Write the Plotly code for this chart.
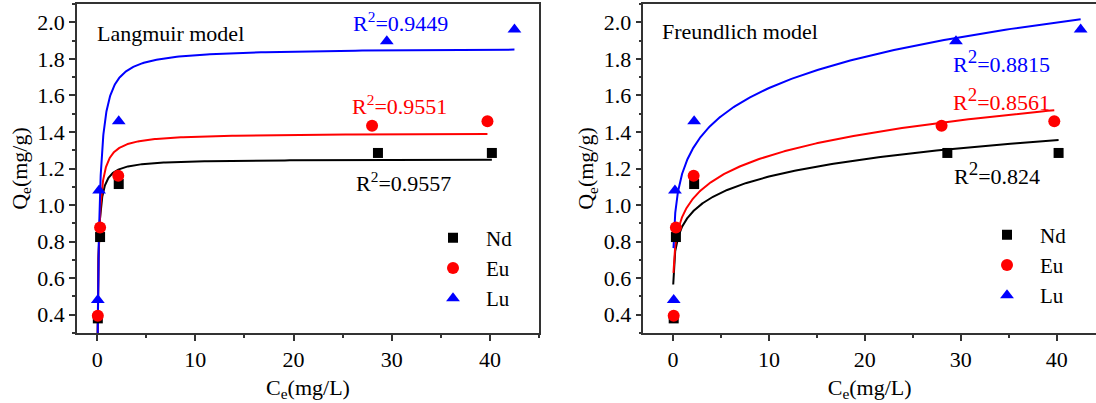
import numpy as np
import plotly.graph_objects as go

# ---------------- data ----------------
elements = ["Nd", "Eu", "Lu"]
colors = ["#000000", "#ff0000", "#0000ff"]
symbols = ["square", "circle", "triangle-up"]
marker_sizes = [10, 12, 12]

ce_nd = [0.07, 0.3, 2.2, 28.6, 40.2]
qe_nd = [0.38, 0.825, 1.115, 1.285, 1.285]
ce_eu = [0.07, 0.3, 2.15, 28.0, 39.75]
qe_eu = [0.395, 0.877, 1.16, 1.434, 1.458]
ce_lu = [0.07, 0.2, 2.2, 29.5, 42.5]
qe_lu = [0.48, 1.08, 1.458, 1.896, 1.96]
ce_all = [ce_nd, ce_eu, ce_lu]
qe_all = [qe_nd, qe_eu, qe_lu]

# fitted model parameters
langmuir_qm = [1.251, 1.393, 1.86]
langmuir_k = [9.7, 7.24, 4.58]
freundlich_kf = [0.887, 0.941, 1.18]
freundlich_inv_n = [0.115, 0.13, 0.143]
freundlich_cstart = [0.02, 0.045, 0.048]

langmuir_r2 = ["0.9557", "0.9551", "0.9449"]
freundlich_r2 = ["0.824", "0.8561", "0.8815"]

W, H = 1096, 403
FONT = "Liberation Serif"
AX = "#333333"

fig = go.Figure()

# ---------------- Langmuir (left) ----------------
for i in range(3):
    cmax = max(ce_all[i])
    c = np.concatenate([[0.0], np.geomspace(1e-3, cmax, 400)])
    q = langmuir_qm[i] * langmuir_k[i] * c / (1 + langmuir_k[i] * c)
    fig.add_trace(go.Scatter(x=c, y=q, mode="lines", line=dict(color=colors[i], width=2),
                             showlegend=False, xaxis="x", yaxis="y", hoverinfo="skip"))
for i in range(3):
    fig.add_trace(go.Scatter(x=ce_all[i], y=qe_all[i], mode="markers", name=elements[i],
                             marker=dict(color=colors[i], symbol=symbols[i], size=marker_sizes[i]),
                             xaxis="x", yaxis="y", legend="legend", legendgroup="L" + elements[i],
                             cliponaxis=False))

# ---------------- Freundlich (right) ----------------
for i in range(3):
    cmax = max(ce_all[i])
    c = np.geomspace(freundlich_cstart[i], cmax, 400)
    q = freundlich_kf[i] * c ** freundlich_inv_n[i]
    fig.add_trace(go.Scatter(x=c, y=q, mode="lines", line=dict(color=colors[i], width=2),
                             showlegend=False, xaxis="x2", yaxis="y2", hoverinfo="skip"))
for i in range(3):
    fig.add_trace(go.Scatter(x=ce_all[i], y=qe_all[i], mode="markers", name=elements[i],
                             marker=dict(color=colors[i], symbol=symbols[i], size=marker_sizes[i]),
                             xaxis="x2", yaxis="y2", legend="legend2", legendgroup="F" + elements[i],
                             cliponaxis=False))

tickfont = dict(family=FONT, size=22, color="#000000")


def xaxis(domain, rng, anchor):
    return dict(domain=domain, range=rng, anchor=anchor, showgrid=False, zeroline=False,
                showline=True, linecolor=AX, linewidth=1.5, mirror=True, automargin=False,
                ticks="outside", ticklen=6, tickwidth=1.5, tickcolor=AX, dtick=10, tick0=0,
                minor=dict(ticks="outside", ticklen=3, dtick=5, tick0=0, tickcolor=AX, tickwidth=1.5),
                tickfont=tickfont,
                title=dict(text="C<sub>e</sub>(mg/L)", font=tickfont, standoff=8))


def yaxis(domain, anchor):
    return dict(domain=domain, range=[0.3, 2.1], anchor=anchor, showgrid=False, zeroline=False,
                showline=True, linecolor=AX, linewidth=1.5, mirror=True, automargin=False,
                ticks="outside", ticklen=6, tickwidth=1.5, tickcolor=AX, dtick=0.2, tick0=0,
                tickformat=".1f",
                minor=dict(ticks="outside", ticklen=3, dtick=0.1, tick0=0, tickcolor=AX, tickwidth=1.5),
                tickfont=tickfont,
                title=dict(text="Q<sub>e</sub>(mg/g)", font=tickfont, standoff=4))


ydom = [(H - 333) / H, (H - 4) / H]
legfont = dict(family=FONT, size=21, color="#000000")

annotations = []
# panel labels
annotations.append(dict(x=-0.2, y=1.941, xref="x", yref="y", text="Langmuir model", showarrow=False,
                        xanchor="left", yanchor="middle", font=dict(family=FONT, size=22, color="#000")))
annotations.append(dict(x=-1.31, y=1.948, xref="x2", yref="y2", text="Freundlich model", showarrow=False,
                        xanchor="left", yanchor="middle", font=dict(family=FONT, size=22, color="#000")))
lang_pos = [(31.2, 1.128), (30.8, 1.547), (30.9, 2.0)]
fr_pos = [(33.75, 1.174), (34.2, 1.58), (34.2, 1.784)]
for i in range(3):
    annotations.append(dict(x=lang_pos[i][0], y=lang_pos[i][1], xref="x", yref="y",
                            text="R<sup>2</sup>=" + langmuir_r2[i], showarrow=False,
                            font=dict(family=FONT, size=22, color=colors[i])))
    annotations.append(dict(x=fr_pos[i][0], y=fr_pos[i][1], xref="x2", yref="y2",
                            text="R<sup><span style='font-size:19px'>2</span></sup>=" + freundlich_r2[i],
                            showarrow=False,
                            font=dict(family=FONT, size=22, color=colors[i])))

fig.update_layout(
    width=W, height=H,
    margin=dict(l=0, r=0, t=0, b=0),
    paper_bgcolor="white", plot_bgcolor="white",
    font=dict(family=FONT, color="#000000"),
    xaxis=xaxis([77 / W, 539 / W], [-2.05, 45], "y"),
    yaxis=yaxis(ydom, "x"),
    xaxis2=xaxis([643.3 / W, 1.0], [-3.1, 44.1], "y2"),
    yaxis2=yaxis(ydom, "x2"),
    legend=dict(x=420 / W, y=(H - 268) / H, xanchor="left", yanchor="middle",
                bgcolor="rgba(0,0,0,0)", font=legfont, itemwidth=56, tracegroupgap=0),
    legend2=dict(x=974 / W, y=(H - 265) / H, xanchor="left", yanchor="middle",
                 bgcolor="rgba(0,0,0,0)", font=legfont, itemwidth=56, tracegroupgap=0),
    annotations=annotations,
    showlegend=True,
)

fig.write_html("out.html", config={"displayModeBar": False},
               post_script="document.body.style.margin='0px';document.body.style.overflow='hidden';")
